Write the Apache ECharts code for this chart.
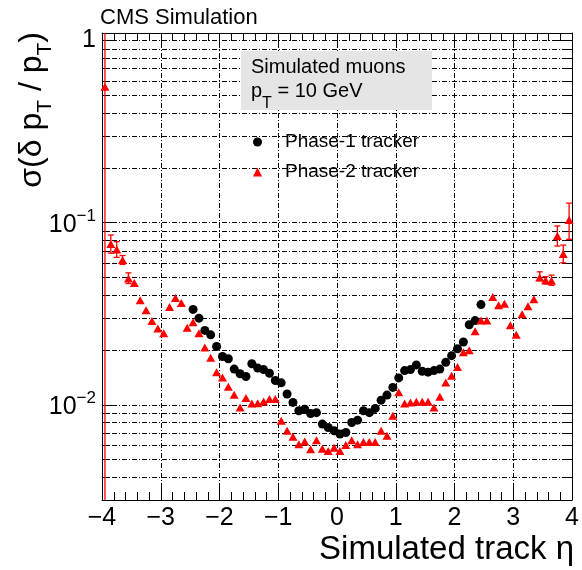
<!DOCTYPE html>
<html><head><meta charset="utf-8">
<script src="https://cdn.jsdelivr.net/npm/echarts@6/dist/echarts.min.js"></script>
<style>html,body{margin:0;padding:0;background:#fff}#c{width:582px;height:570px}</style>
</head><body><div id="c"></div>
<script>
// ---- data ----
const etaPhase2 = [-3.95,-3.85,-3.75,-3.65,-3.55,-3.45,-3.35,-3.25,-3.15,-3.05,
  -2.95,-2.85,-2.75,-2.65,-2.55,-2.45,-2.35,-2.25,-2.15,-2.05,
  -1.95,-1.85,-1.75,-1.65,-1.55,-1.45,-1.35,-1.25,-1.15,-1.05,
  -0.95,-0.85,-0.75,-0.65,-0.55,-0.45,-0.35,-0.25,-0.15,-0.05,
  0.05,0.15,0.25,0.35,0.45,0.55,0.65,0.75,0.85,0.95,
  1.05,1.15,1.25,1.35,1.45,1.55,1.65,1.75,1.85,1.95,
  2.05,2.15,2.25,2.35,2.45,2.55,2.65,2.75,2.85,2.95,
  3.05,3.15,3.25,3.35,3.45,3.55,3.65,3.75,3.85,3.95];
const sigmaPhase2 = [0.558,0.0763,0.0713,0.0623,0.0494,0.0467,0.0375,0.033,0.0288,0.0262,
  0.0247,0.0344,0.0386,0.0362,0.0265,0.0284,0.0247,0.0206,0.0181,0.0151,
  0.0141,0.01257,0.01135,0.00966,0.0109,0.01016,0.0102,0.01042,0.01075,0.01075,
  0.00816,0.0072,0.00667,0.00607,0.00628,0.0057,0.00639,0.00574,0.00557,0.00581,
  0.00557,0.00602,0.00639,0.00607,0.00625,0.00625,0.00625,0.00719,0.00675,0.0087,
  0.0117,0.01017,0.0103,0.0104,0.0104,0.0104,0.00966,0.01107,0.01327,0.01445,
  0.0161,0.0194,0.0199,0.0253,0.029,0.029,0.0391,0.0352,0.0359,0.0273,
  0.0242,0.0314,0.0347,0.038,0.05,0.0483,0.0479,0.0845,0.0672,0.1035];
const etaPhase1 = [-2.45,-2.35,-2.25,-2.15,-2.05,
  -1.95,-1.85,-1.75,-1.65,-1.55,-1.45,-1.35,-1.25,-1.15,-1.05,
  -0.95,-0.85,-0.75,-0.65,-0.55,-0.45,-0.35,-0.25,-0.15,-0.05,
  0.05,0.15,0.25,0.35,0.45,0.55,0.65,0.75,0.85,0.95,
  1.05,1.15,1.25,1.35,1.45,1.55,1.65,1.75,1.85,1.95,
  2.05,2.15,2.25,2.35,2.45];
const sigmaPhase1 = [0.0334,0.0299,0.0256,0.0242,0.0209,
  0.0184,0.0179,0.0157,0.0148,0.0143,0.0168,0.0159,0.0156,0.0149,0.0136,
  0.0132,0.01146,0.0103,0.00927,0.00946,0.00896,0.00905,0.00783,0.0075,0.0072,
  0.0069,0.00704,0.00799,0.00823,0.00927,0.00905,0.00955,0.0106,0.0113,0.01246,
  0.01404,0.0154,0.0156,0.01656,0.01527,0.0151,0.0154,0.0157,0.0171,0.0186,
  0.0203,0.0221,0.0275,0.029,0.0355];
// error bars (Phase-2) : eta, low, high
const errEta  = [-3.95,-3.85,-3.75,-3.65,-3.55,3.45,3.55,3.65,3.75,3.85,3.95];
const errLow  = [0.001,0.068,0.0645,0.059,0.0463,0.048,0.046,0.0453,0.0744,0.0602,0.081];
const errHigh = [5,0.0855,0.0786,0.066,0.053,0.0537,0.0505,0.0515,0.0959,0.0753,0.128];
const xTicks = [-4,-3,-2,-1,0,1,2,3,4];
const yDecadeLabels = {'0':'{m|1}', '-1':'{m|10}{s|−1}', '-2':'{m|10}{s|−2}'};

const FONT = "'Liberation Sans', Arial, Helvetica, sans-serif";
const GRIDLINE = {color:'#000', width:1, type:[5,2,1,2]};

const p1 = etaPhase1.map((e,i)=>[e, sigmaPhase1[i]]);
const p2 = etaPhase2.map((e,i)=>[e, sigmaPhase2[i]]);
const errs = errEta.map((e,i)=>[e, errLow[i], errHigh[i]]);

function xAxisDef(pos){
  return {
    type:'value', min:-4, max:4, interval:1, position:pos,
    axisLine:{show:true, onZero:false, lineStyle:{color:'#000', width:1}},
    axisTick:{show:true, inside:true, length:15, lineStyle:{color:'#000'}},
    minorTick:{show:true, splitNumber:5, length:8, lineStyle:{color:'#000'}},
    splitLine:{show:pos==='bottom', lineStyle:GRIDLINE},
    axisLabel:{show:pos==='bottom', fontSize:25, fontFamily:FONT, color:'#000', margin:6,
      showMinLabel:true, showMaxLabel:true,
      formatter:v=> xTicks.includes(v) ? String(v).replace('-','\u2212') : ''}
  };
}
function yAxisDef(pos){
  return {
    type:'log', logBase:10, min:0.003, max:1.1, position:pos,
    axisLine:{show:true, onZero:false, lineStyle:{color:'#000', width:1}},
    axisTick:{show:true, inside:true, length:15, lineStyle:{color:'#000'}},
    minorTick:{show:true, splitNumber:9, length:7, lineStyle:{color:'#000'}},
    splitLine:{show:pos==='left', lineStyle:GRIDLINE},
    minorSplitLine:{show:pos==='left', lineStyle:GRIDLINE},
    axisLabel:{show:pos==='left', margin:6, color:'#000',
      formatter:function(v){
        const l = Math.log10(v), r = Math.round(l);
        if (Math.abs(l-r) > 1e-6) return '';
        return yDecadeLabels[String(r)] || '';
      },
      rich:{
        m:{fontSize:25, fontFamily:FONT, color:'#000', verticalAlign:'bottom'},
        s:{fontSize:17, fontFamily:FONT, color:'#000', verticalAlign:'bottom', padding:[0,0,12,0]}
      }
    }
  };
}

const chart = echarts.init(document.getElementById('c'), null, {renderer:'canvas'});
chart.setOption({
  animation:false,
  backgroundColor:'#fff',
  grid:{left:102, right:8, top:33, bottom:70, containLabel:false},
  xAxis:[xAxisDef('bottom'), xAxisDef('top')],
  yAxis:[yAxisDef('left'), yAxisDef('right')],
  legend:{
    orient:'vertical', left:248, top:127, itemWidth:9, itemHeight:9, itemGap:10,
    selectedMode:false,
    textStyle:{fontSize:19, fontFamily:FONT, color:'#000', lineHeight:20, padding:[0,0,0,18]},
    data:[{name:'Phase-1 tracker', icon:'circle', itemStyle:{opacity:1}},
          {name:'Phase-2 tracker', icon:'triangle', itemStyle:{opacity:1}}]
  },
  series:[
    {
      name:'errors', type:'custom', clip:true, z:2, xAxisIndex:0, yAxisIndex:0,
      encode:{x:0, y:[1,2]},
      data:errs,
      renderItem:function(params, api){
        const x = api.value(0), lo = api.value(1), hi = api.value(2);
        const a = api.coord([x, lo]), b = api.coord([x, hi]);
        const cw = 3, st = {stroke:'#ff0000', lineWidth:1.3};
        return {type:'group', children:[
          {type:'line', shape:{x1:a[0], y1:a[1], x2:b[0], y2:b[1]}, style:st},
          {type:'line', shape:{x1:a[0]-cw, y1:a[1], x2:a[0]+cw, y2:a[1]}, style:st},
          {type:'line', shape:{x1:b[0]-cw, y1:b[1], x2:b[0]+cw, y2:b[1]}, style:st}
        ]};
      }
    },
    {
      name:'Phase-1 tracker', type:'scatter', z:3, symbol:'circle', symbolSize:9,
      itemStyle:{color:'#000', opacity:1}, data:p1
    },
    {
      name:'Phase-2 tracker', type:'scatter', z:4, symbol:'triangle', symbolSize:[9,8],
      itemStyle:{color:'#ff0000', opacity:1}, data:p2
    }
  ],
  graphic:[
    {type:'text', z:20, x:100, y:18,
     style:{text:'CMS Simulation', fontSize:22, fontFamily:FONT, fill:'#000',
            align:'left', verticalAlign:'middle', textAlign:'left', textVerticalAlign:'middle'}},
    {type:'rect', z:20, shape:{x:241, y:51, width:191, height:59}, style:{fill:'#e5e5e5'}},
    {type:'text', z:21, x:251, y:67,
     style:{text:'Simulated muons', fontSize:20, fontFamily:FONT, fill:'#000',
            align:'left', verticalAlign:'middle', textAlign:'left', textVerticalAlign:'middle'}},
    {type:'text', z:21, x:251, y:81.3,
     style:{text:'{m|p}{s|T}{m| = 10 GeV}', align:'left', verticalAlign:'top', textAlign:'left', textVerticalAlign:'top',
            rich:{m:{fontSize:20, fontFamily:FONT, fill:'#000', verticalAlign:'top'},
                  s:{fontSize:16, fontFamily:FONT, fill:'#000', verticalAlign:'top', padding:[14.7,0,0,0]}}}},
    {type:'text', z:20, x:16.3, y:32, rotation:Math.PI/2,
     style:{text:'{m|σ(δ p}{s|T}{m| / p}{s|T}{m|)}', align:'right', verticalAlign:'top', textAlign:'right', textVerticalAlign:'top',
            rich:{m:{fontSize:32, fontFamily:FONT, fill:'#000', verticalAlign:'top'},
                  s:{fontSize:21, fontFamily:FONT, fill:'#000', verticalAlign:'top', padding:[18,0,0,0]}}}},
    {type:'text', z:20, x:574, y:550,
     style:{text:'Simulated track η', fontSize:33, fontFamily:FONT, fill:'#000',
            align:'right', verticalAlign:'middle', textAlign:'right', textVerticalAlign:'middle'}}
  ]
});
</script>
</body></html>
